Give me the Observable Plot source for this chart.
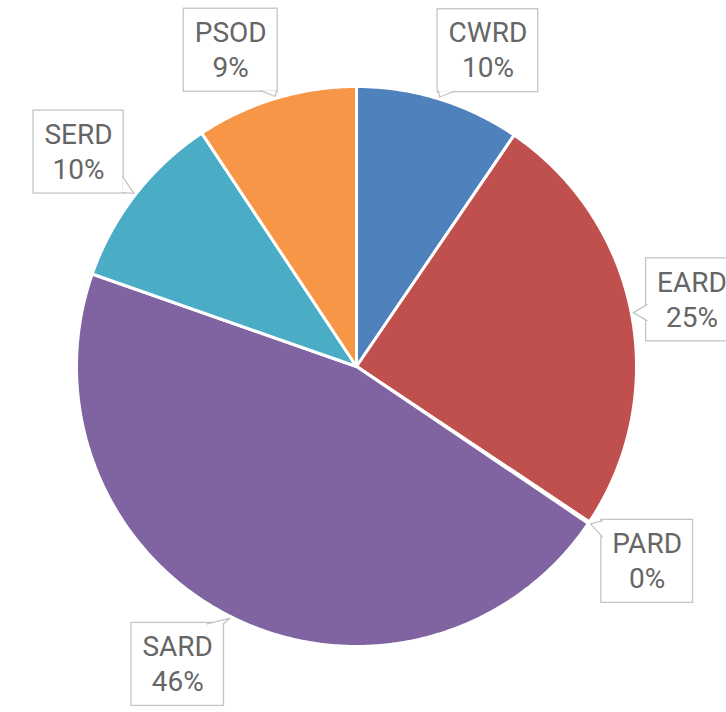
<!DOCTYPE html>
<html><head><meta charset="utf-8">
<script src="https://cdn.jsdelivr.net/npm/d3@7"></script>
<script src="https://cdn.jsdelivr.net/npm/@observablehq/plot@0.6"></script>
<style>html,body{margin:0;padding:0;background:#fff;overflow:hidden}</style>
</head><body><div id="chart"></div>
<script>
// ---- data ----
const categories = ["CWRD", "EARD", "PARD", "SARD", "SERD", "PSOD"];
const values = [9.5, 24.8, 0.1, 45.8, 10.3, 9.3];
const colors = ["#4F81BD", "#C0504D", "#9BBB59", "#8064A2", "#4BACC6", "#F79646"];

// ---- layout ----
const W = 726, H = 712;
const cx = 356, cy = 366, R = 280;
const FONT = "Roboto, 'Liberation Sans', Arial, sans-serif";
const FS = 28;
const ux = px => (px - cx) / R;
const uy = py => (cy - py) / R;

const total = d3.sum(values);
const pie = d3.pie().sort(null).value(d => d)(values);

// slice polygons in unit coordinates (angle clockwise from top)
const poly = [];
pie.forEach((p, i) => {
  const a0 = p.startAngle, a1 = p.endAngle;
  const n = Math.max(2, Math.ceil((a1 - a0) / (Math.PI / 360)));
  poly.push({name: categories[i], x: 0, y: 0});
  for (let k = 0; k <= n; k++) {
    const a = a0 + (a1 - a0) * k / n;
    poly.push({name: categories[i], x: Math.sin(a), y: Math.cos(a)});
  }
});

// measure text
const ctx = document.createElement("canvas").getContext("2d");
ctx.font = `${FS}px ${FONT}`;
const clamp = (v, lo, hi) => Math.max(lo, Math.min(hi, v));

const labels = [], boxes = [], pointers = [];
pie.forEach((p, i) => {
  const mid = (p.startAngle + p.endAngle) / 2;
  const s = Math.sin(mid), c = Math.cos(mid);
  const tipX = cx + (R + 2) * s, tipY = cy - (R + 2) * c;
  const ax = tipX + 13 * s, ay = tipY - 5 * c;
  const pct = Math.round(values[i] / total * 100) + "%";
  const tw = Math.max(ctx.measureText(categories[i]).width, ctx.measureText(pct).width);
  const bw = tw + 22, bh = 83;
  const bcx = ax + bw / 2 * clamp(3 * s, -1, 1);
  const bcy = ay - bh / 2 * clamp(1.5 * c, -1, 1);
  const x0 = bcx - bw / 2, x1 = bcx + bw / 2, y0 = bcy - bh / 2, y1 = bcy + bh / 2;
  boxes.push({name: categories[i], x1: ux(x0), x2: ux(x1), y1: uy(y0), y2: uy(y1)});
  labels.push({name: categories[i], text: categories[i] + "\n" + pct, x: ux(bcx), y: uy(bcy - 2)});
  // pointer
  let b1, b2;
  if (tipY > y1) { const px = clamp(tipX, x0 + 9, x1 - 9); b1 = [px - 8, y1 - 1]; b2 = [px + 8, y1 - 1]; }
  else if (tipY < y0) { const px = clamp(tipX, x0 + 9, x1 - 9); b1 = [px - 8, y0 + 1]; b2 = [px + 8, y0 + 1]; }
  else if (tipX < x0) { const py = clamp(tipY, y0 + 9, y1 - 9); b1 = [x0 + 1, py - 8]; b2 = [x0 + 1, py + 8]; }
  else { const py = clamp(tipY, y0 + 9, y1 - 9); b1 = [x1 - 1, py - 8]; b2 = [x1 - 1, py + 8]; }
  [b1, [tipX, tipY], b2].forEach(q => pointers.push({name: categories[i], x: ux(q[0]), y: uy(q[1])}));
});

const chart = Plot.plot({
  width: W, height: H, margin: 0,
  x: {domain: [ux(0), ux(W)], axis: null},
  y: {domain: [uy(H), uy(0)], axis: null},
  color: {domain: categories, range: colors},
  style: {background: "#fff"},
  marks: [
    Plot.line(poly, {x: "x", y: "y", z: "name", fill: "name", stroke: "#fff", strokeWidth: 3, curve: "linear-closed", strokeLinejoin: "round"}),
    Plot.rect(boxes, {x1: "x1", x2: "x2", y1: "y1", y2: "y2", fill: "#fff", stroke: "#C4C4C4", strokeWidth: 1.3}),
    Plot.line(pointers, {x: "x", y: "y", z: "name", fill: "#fff", stroke: "#C4C4C4", strokeWidth: 1.3}),
    Plot.text(labels, {x: "x", y: "y", text: "text", fontSize: FS, fontFamily: FONT, lineHeight: 35 / FS, fill: "#666666", textAnchor: "middle", lineAnchor: "middle"})
  ]
});
document.getElementById("chart").appendChild(chart);
</script>
</body></html>
